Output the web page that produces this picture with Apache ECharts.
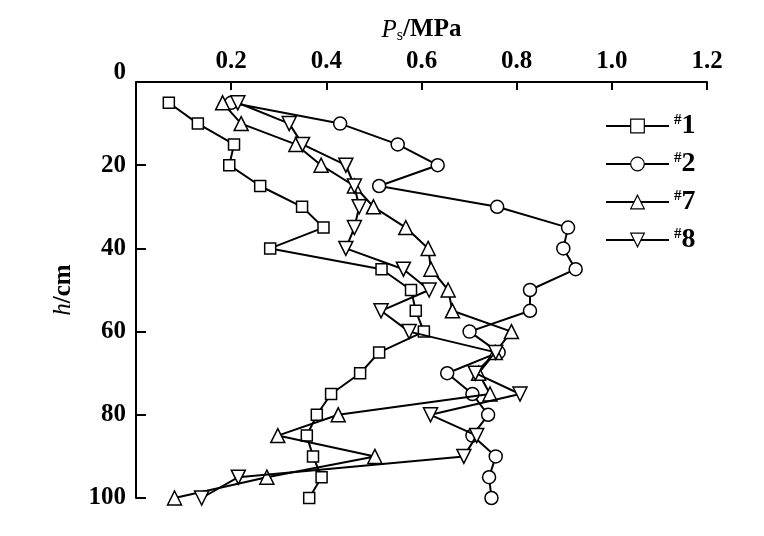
<!DOCTYPE html>
<html>
<head>
<meta charset="utf-8">
<script src="https://cdn.jsdelivr.net/npm/echarts@6/dist/echarts.min.js"></script>
<style>html,body{margin:0;padding:0;background:#fff}#c{width:764px;height:536px}</style>
</head>
<body>
<div id="c"></div>
<script>
const depths = [5,10,15,20,25,30,35,40,45,50,55,60,65,70,75,80,85,90,95,100];
const s1 = [0.069,0.130,0.206,0.196,0.261,0.349,0.394,0.282,0.516,0.578,0.588,0.605,0.511,0.471,0.410,0.380,0.359,0.372,0.390,0.364];
const s2 = [0.200,0.429,0.550,0.634,0.511,0.759,0.908,0.898,0.924,0.828,0.828,0.701,0.762,0.654,0.707,0.740,0.707,0.756,0.742,0.747];
const s7 = [0.182,0.221,0.336,0.389,0.459,0.499,0.567,0.614,0.620,0.656,0.665,0.789,0.755,0.720,0.744,0.425,0.298,0.502,0.275,0.081];
const s8 = [0.214,0.322,0.350,0.441,0.459,0.469,0.459,0.441,0.562,0.616,0.515,0.574,0.756,0.713,0.807,0.619,0.716,0.689,0.215,0.138];
const seriesNames = ['#1','#2','#7','#8'];
const xTicks = [0,0.2,0.4,0.6,0.8,1.0,1.2];
const yTicks = [0,20,40,60,80,100];

const FONT = '"Liberation Serif", "DejaVu Serif", serif';
const chart = echarts.init(document.getElementById('c'));
function pairs(vals){ return vals.map((v,i)=>[v, depths[i]]); }
const symbols = [
  {symbol:'rect', size:11, rotate:0},
  {symbol:'circle', size:13, rotate:0},
  {symbol:'triangle', size:14, rotate:0},
  {symbol:'triangle', size:14, rotate:180}
];
const datasets = [s1,s2,s7,s8];
const series = datasets.map((d,i)=>({
  name: seriesNames[i],
  type: 'line',
  data: pairs(d),
  symbol: symbols[i].symbol,
  symbolSize: symbols[i].size,
  symbolRotate: symbols[i].rotate,
  showAllSymbol: true,
  lineStyle: {color:'#000', width:2},
  itemStyle: {color:'#fff', borderColor:'#000', borderWidth:1.5},
  emphasis: {disabled:true},
  animation: false,
  z: 2 + i
}));

chart.setOption({
  backgroundColor: '#fff',
  animation: false,
  grid: {left:136, right:57, top:82, bottom:38},
  legend: {
    orient: 'vertical',
    left: 600,
    top: 107,
    itemWidth: 63,
    itemHeight: 17,
    itemGap: 10,
    data: seriesNames,
    formatter: function(n){ return '{h|#}{n|' + n.slice(1) + '}'; },
    textStyle: {
      color:'#000', fontFamily: FONT, fontWeight:'bold',
      rich: {
        h: {fontSize:15, fontFamily: FONT, fontWeight:'bold', padding:[0,0,12,0], lineHeight:28},
        n: {fontSize:28, fontFamily: FONT, fontWeight:'bold', lineHeight:28}
      }
    },
    itemStyle: {color:'#fff', borderColor:'#000', borderWidth:1.2},
    lineStyle: {color:'#000', width:2}
  },
  xAxis: {
    type: 'value',
    position: 'top',
    min: 0, max: 1.2, interval: 0.2,
    name: '{i|P}{s|s}{b|/MPa}',
    nameLocation: 'middle',
    nameGap: 38,
    nameTextStyle: {
      rich: {
        i: {fontFamily: FONT, fontStyle:'italic', fontSize:25, color:'#000'},
        s: {fontFamily: FONT, fontSize:16, color:'#000', padding:[12,0,0,0]},
        b: {fontFamily: FONT, fontWeight:'bold', fontSize:25, color:'#000'}
      }
    },
    axisLine: {show:true, lineStyle:{color:'#000', width:2}},
    axisTick: {show:true, inside:true, length:8, lineStyle:{color:'#000', width:2}},
    splitLine: {show:false},
    axisLabel: {
      color:'#000', fontFamily: FONT, fontWeight:'bold', fontSize:25, margin:8,
      formatter: function(v){ const t = xTicks.find(x=>Math.abs(x-v)<1e-9); if (t===0) return ''; return t.toFixed(1); }
    }
  },
  yAxis: {
    type: 'value',
    inverse: true,
    min: 0, max: 100, interval: 20,
    name: '{i|h}{b|/cm}',
    nameLocation: 'middle',
    nameGap: 60,
    nameRotate: 90,
    nameTextStyle: {
      rich: {
        i: {fontFamily: FONT, fontStyle:'italic', fontSize:25, color:'#000'},
        b: {fontFamily: FONT, fontWeight:'bold', fontSize:25, color:'#000'}
      }
    },
    axisLine: {show:true, lineStyle:{color:'#000', width:2}},
    axisTick: {show:true, inside:true, length:10, lineStyle:{color:'#000', width:2}},
    splitLine: {show:false},
    axisLabel: {
      color:'#000', fontFamily: FONT, fontWeight:'bold', fontSize:25, margin:10,
      formatter: function(v){ const t = yTicks.find(y=>y===v); return t===0 ? '{z|0}' : String(t); },
      rich: {z: {fontFamily: FONT, fontWeight:'bold', fontSize:25, color:'#000', padding:[0,0,18,0]}}
    }
  },
  series: series
});
</script>
</body>
</html>
